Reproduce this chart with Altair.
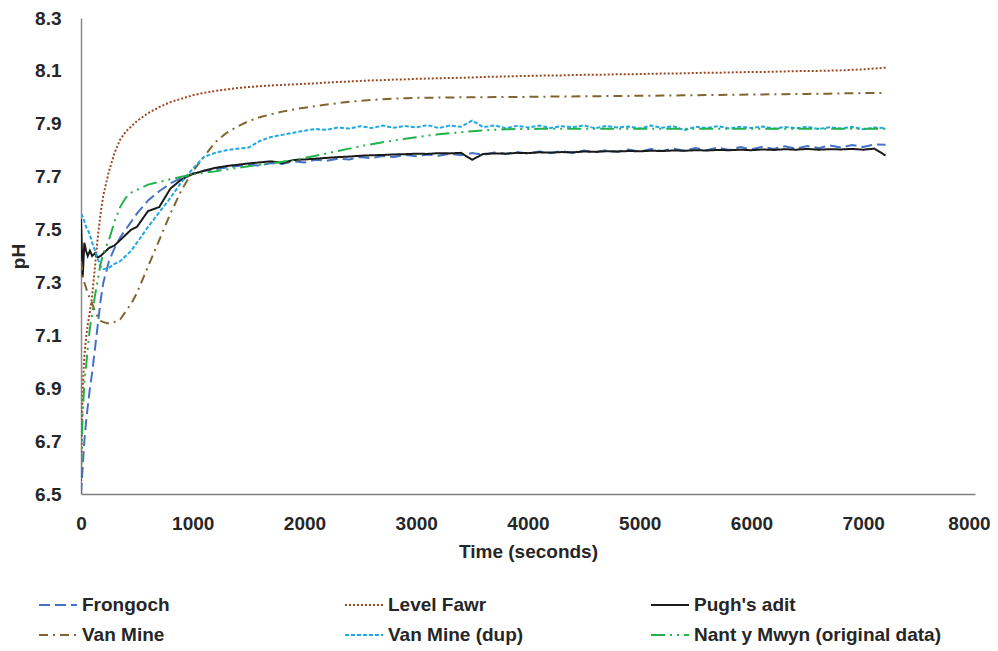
import altair as alt
import pandas as pd

T = [0, 15, 30, 45, 60, 80, 100, 125, 150, 175,
     200, 250, 300, 350, 400, 450, 500, 600, 700, 800,
     900, 1000, 1100, 1200, 1300, 1400, 1500, 1600, 1700, 1800,
     1900, 2000, 2100, 2200, 2300, 2400, 2500, 2600, 2700, 2800,
     2900, 3000, 3100, 3200, 3300, 3400, 3500, 3600, 3700, 3800,
     3900, 4000, 4100, 4200, 4300, 4400, 4500, 4600, 4700, 4800,
     4900, 5000, 5100, 5200, 5300, 5400, 5500, 5600, 5700, 5800,
     5900, 6000, 6100, 6200, 6300, 6400, 6500, 6600, 6700, 6800,
     6900, 7000, 7100, 7200]

frongoch = [6.50, 6.60, 6.70, 6.77, 6.83, 6.90, 6.96, 7.05, 7.14, 7.23,
            7.30, 7.38, 7.43, 7.47, 7.50, 7.53, 7.56, 7.61, 7.645, 7.675,
            7.695, 7.712, 7.722, 7.728, 7.735, 7.74, 7.745, 7.742, 7.752, 7.748,
            7.758, 7.754, 7.764, 7.76, 7.768, 7.765, 7.774, 7.77, 7.778, 7.774,
            7.782, 7.777, 7.784, 7.779, 7.787, 7.781, 7.789, 7.783, 7.791, 7.786,
            7.793, 7.787, 7.795, 7.789, 7.797, 7.79, 7.799, 7.792, 7.8, 7.794,
            7.803, 7.795, 7.805, 7.797, 7.806, 7.798, 7.808, 7.8, 7.81, 7.801,
            7.812, 7.803, 7.813, 7.805, 7.815, 7.806, 7.816, 7.808, 7.818, 7.81,
            7.82, 7.812, 7.822, 7.821]

level_fawr = [6.55, 6.90, 7.02, 7.09, 7.14, 7.19, 7.25, 7.36, 7.47, 7.56,
              7.63, 7.72, 7.79, 7.84, 7.87, 7.89, 7.91, 7.94, 7.963, 7.982,
              7.995, 8.008, 8.017, 8.024, 8.03, 8.035, 8.039, 8.042, 8.045, 8.047,
              8.049, 8.051, 8.053, 8.056, 8.058, 8.06, 8.062, 8.064, 8.065, 8.067,
              8.068, 8.07, 8.071, 8.072, 8.073, 8.074, 8.075, 8.077, 8.078, 8.079,
              8.08, 8.081, 8.082, 8.083, 8.083, 8.084, 8.085, 8.085, 8.086, 8.087,
              8.087, 8.088, 8.089, 8.09, 8.09, 8.091, 8.092, 8.093, 8.093, 8.094,
              8.095, 8.096, 8.096, 8.097, 8.098, 8.099, 8.1, 8.1, 8.101, 8.102,
              8.104, 8.106, 8.109, 8.112]

pughs_adit = [7.54, 7.32, 7.45, 7.42, 7.40, 7.42, 7.40, 7.41, 7.395, 7.40,
              7.41, 7.43, 7.44, 7.46, 7.48, 7.50, 7.51, 7.57, 7.585, 7.655,
              7.69, 7.71, 7.722, 7.733, 7.74, 7.745, 7.75, 7.754, 7.758, 7.752,
              7.763, 7.765, 7.768, 7.771, 7.774, 7.776, 7.779, 7.781, 7.782, 7.784,
              7.785, 7.787, 7.786, 7.789, 7.788, 7.79, 7.764, 7.786, 7.788, 7.787,
              7.79, 7.789, 7.792, 7.791, 7.793, 7.792, 7.795, 7.794, 7.796, 7.795,
              7.797, 7.796, 7.798, 7.797, 7.799, 7.798, 7.8, 7.799, 7.801, 7.8,
              7.802, 7.8, 7.803, 7.801, 7.804, 7.802, 7.805, 7.802, 7.804, 7.803,
              7.805, 7.802, 7.806, 7.78]

van_mine = [7.38, 7.33, 7.30, 7.28, 7.26, 7.24, 7.22, 7.19, 7.17, 7.155,
            7.15, 7.145, 7.15, 7.16, 7.19, 7.22, 7.26, 7.36, 7.46, 7.56,
            7.65, 7.72, 7.775, 7.83, 7.865, 7.89, 7.91, 7.925, 7.936, 7.946,
            7.954, 7.961, 7.967, 7.973, 7.978, 7.983, 7.987, 7.99, 7.993, 7.995,
            7.997, 7.998, 7.998, 7.999, 7.999, 8.0, 8.0, 8.0, 8.001, 8.001,
            8.001, 8.002, 8.002, 8.003, 8.003, 8.003, 8.004, 8.004, 8.005, 8.005,
            8.005, 8.006, 8.006, 8.007, 8.007, 8.008, 8.008, 8.009, 8.009, 8.01,
            8.01, 8.011, 8.011, 8.012, 8.012, 8.013, 8.013, 8.014, 8.014, 8.015,
            8.015, 8.016, 8.016, 8.017]

van_mine_dup = [7.56, 7.55, 7.53, 7.51, 7.50, 7.48, 7.45, 7.42, 7.39, 7.36,
                7.35, 7.355, 7.37, 7.38, 7.40, 7.42, 7.45, 7.51, 7.565, 7.62,
                7.68, 7.73, 7.775, 7.79, 7.80, 7.806, 7.81, 7.835, 7.85, 7.858,
                7.866, 7.874, 7.88, 7.877, 7.886, 7.882, 7.891, 7.884, 7.893, 7.885,
                7.892, 7.886, 7.895, 7.884, 7.893, 7.889, 7.912, 7.887, 7.894, 7.883,
                7.892, 7.886, 7.893, 7.884, 7.891, 7.887, 7.894, 7.883, 7.892, 7.886,
                7.89, 7.882, 7.893, 7.885, 7.891, 7.876, 7.889, 7.884, 7.891, 7.882,
                7.889, 7.884, 7.89, 7.881, 7.888, 7.883, 7.889, 7.88, 7.887, 7.882,
                7.888, 7.879, 7.886, 7.884]

nant_y_mwyn = [6.60, 6.80, 6.92, 6.98, 7.05, 7.13, 7.18, 7.25, 7.31, 7.37,
               7.41, 7.46, 7.53, 7.585, 7.62, 7.64, 7.65, 7.67, 7.68, 7.69,
               7.70, 7.708, 7.715, 7.72, 7.727, 7.733, 7.739, 7.745, 7.75, 7.756,
               7.763, 7.771, 7.779, 7.788, 7.797, 7.806, 7.815, 7.823, 7.83, 7.837,
               7.843, 7.849, 7.855, 7.86, 7.864, 7.868, 7.872, 7.875, 7.877, 7.879,
               7.88, 7.88, 7.881, 7.881, 7.881, 7.881, 7.881, 7.881, 7.881, 7.881,
               7.881, 7.881, 7.881, 7.881, 7.881, 7.881, 7.881, 7.881, 7.881, 7.881,
               7.881, 7.881, 7.881, 7.881, 7.881, 7.881, 7.881, 7.881, 7.881, 7.881,
               7.881, 7.881, 7.881, 7.881]

series_names = ["Frongoch", "Level Fawr", "Pugh's adit", "Van Mine",
                "Van Mine (dup)", "Nant y Mwyn (original data)"]
series_values = [frongoch, level_fawr, pughs_adit, van_mine, van_mine_dup, nant_y_mwyn]
series_colors = ["#4472C4", "#A0461E", "#1A1A1A", "#806530", "#1FA8E6", "#22B24C"]
series_dashes = [[11, 5], [2, 2], [1, 0], [9, 5, 2, 5], [4, 2], [14, 5, 2, 5, 2, 5]]

x_ticks = [0, 1000, 2000, 3000, 4000, 5000, 6000, 7000, 8000]
y_ticks = [6.5, 6.7, 6.9, 7.1, 7.3, 7.5, 7.7, 7.9, 8.1, 8.3]

rows = []
for name, vals in zip(series_names, series_values):
    for t, v in zip(T, vals):
        rows.append({"Time": t, "pH": v, "Series": name})
df = pd.DataFrame(rows)

FONT = "Liberation Sans"

chart = alt.Chart(df).mark_line(strokeWidth=2, clip=True).encode(
    x=alt.X("Time:Q",
            scale=alt.Scale(domain=[0, 8000], nice=False),
            axis=alt.Axis(values=x_ticks, format="d", title="Time (seconds)", grid=False,
                          ticks=False, labelPadding=20, titlePadding=9,
                          domainColor="#7F7F7F", labelFlush=False,
                          labelOffset={"condition": {"test": "datum.value === 8000", "value": -6},
                                       "value": 0})),
    y=alt.Y("pH:Q",
            scale=alt.Scale(domain=[6.5, 8.3], nice=False, zero=False),
            axis=alt.Axis(values=y_ticks, format=".1f", title="pH", grid=False,
                          ticks=False, labelPadding=20, titlePadding=6,
                          domainColor="#8C8C8C", labelFlush=False)),
    color=alt.Color("Series:N",
                    scale=alt.Scale(domain=series_names, range=series_colors),
                    legend=alt.Legend(title=None, orient="none", legendX=-43, legendY=567,
                                      columns=3, direction="horizontal", gridAlign="all",
                                      columnPadding=11, rowPadding=-24,
                                      symbolType="stroke", symbolSize=1444,
                                      symbolStrokeWidth=2, labelOffset=4, labelLimit=400,
                                      padding=0)),
    strokeDash=alt.StrokeDash("Series:N",
                              scale=alt.Scale(domain=series_names, range=series_dashes),
                              legend=None),
    detail="Series:N",
).properties(
    width=894, height=476,
    autosize=alt.AutoSizeParams(type="none"),
    padding={"left": 73, "top": 10, "right": 15, "bottom": 154},
).configure_view(stroke=None).configure_axis(
    labelFont=FONT, labelFontSize=19, labelFontWeight="bold", labelColor="#262626",
    titleFont=FONT, titleFontSize=19, titleFontWeight="bold", titleColor="#262626",
    domainWidth=1.5,
).configure_legend(
    labelFont=FONT, labelFontSize=19, labelFontWeight="bold", labelColor="#262626",
)

chart.save("out.html", embed_options={"renderer": "svg", "actions": False})
